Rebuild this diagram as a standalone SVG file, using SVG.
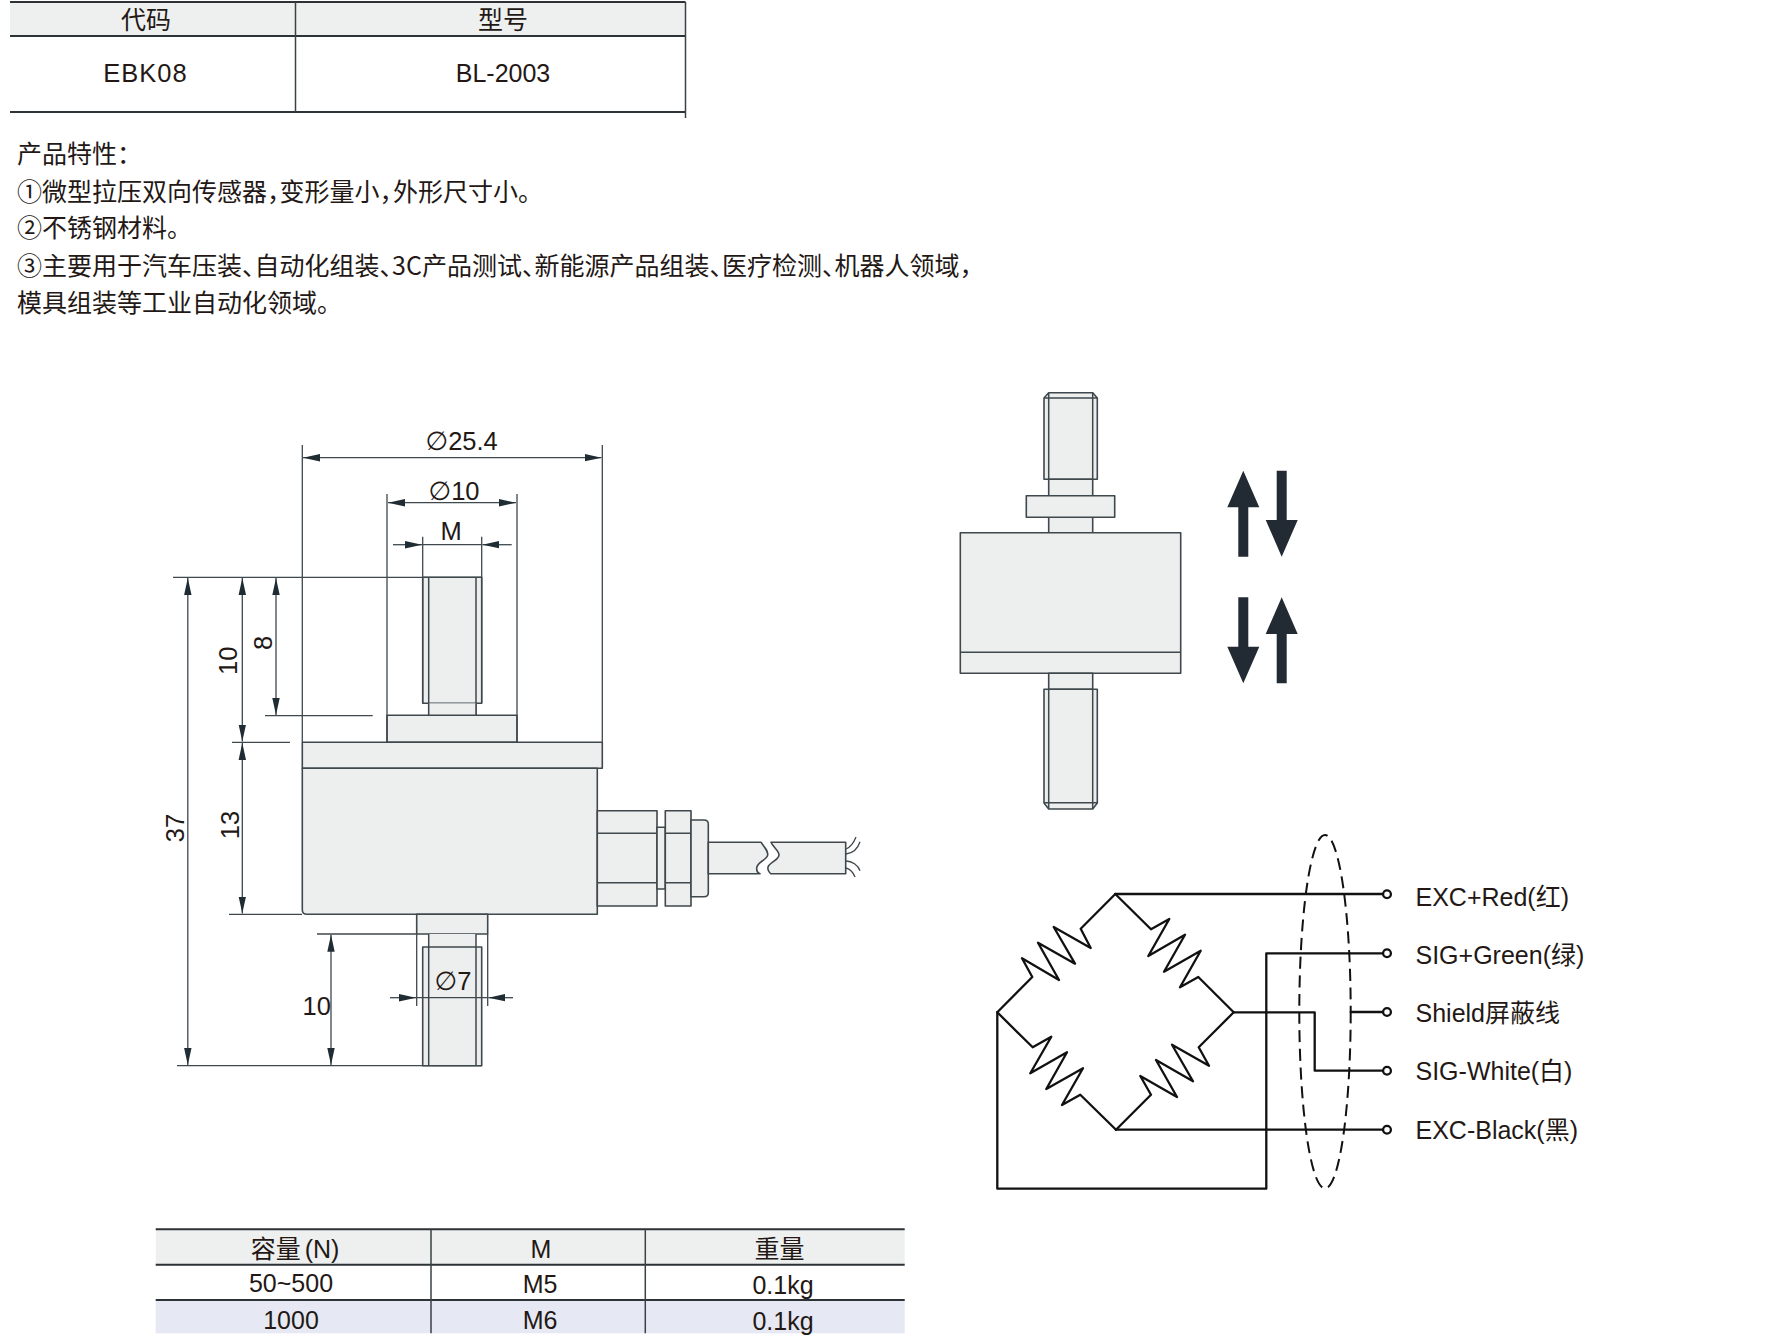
<svg xmlns="http://www.w3.org/2000/svg" width="1782" height="1339" viewBox="0 0 1782 1339">
<style>
text{font-family:"Liberation Sans","Noto Sans CJK SC",sans-serif;fill:#231815;font-size:25px}
.cjk{font-family:"Noto Sans CJK SC","Liberation Sans",sans-serif;font-size:25px}
.p{font-feature-settings:"halt"}
.m{text-anchor:middle}
.dim{font-size:25.5px}
.tl{stroke:#3a4246;stroke-width:1.5;fill:none}
.tb{stroke:#2c3236;stroke-width:2;fill:none}
.o{stroke:#3f484d;stroke-width:1.6;fill:#edefee;stroke-linejoin:round}
.l{stroke:#3f484d;stroke-width:1.5;fill:none}
.d{stroke:#3f484d;stroke-width:1.3;fill:none}
.da{marker-end:url(#ah);marker-start:url(#ah)}
.de{marker-end:url(#ah)}
.w{stroke:#111;stroke-width:2.3;fill:none;stroke-linejoin:round;stroke-linecap:round}
.t{stroke:#111;stroke-width:2.3;fill:#fff}
.sh{stroke:#111;stroke-width:2;fill:none;stroke-dasharray:12 6.5}
.ar{fill:#222b33}
.dia{font-family:"DejaVu Sans",sans-serif;font-size:26px}
</style>
<defs>
<marker id="ah" markerUnits="userSpaceOnUse" markerWidth="18" markerHeight="9" refX="17" refY="4.5" orient="auto-start-reverse"><path d="M0 0.8L17 4.5L0 8.2Z" fill="#1f2c33"/></marker>
</defs>

<g id="table-top">
<rect x="10" y="2" width="675.5" height="34" fill="#eef0ef"/>
<path class="tb" d="M10 2H685.5M10 36H685.5M10 112H685.5"/>
<path class="tl" d="M295.5 2V112M685.5 2V118"/>
<text class="cjk m" x="146" y="29">代码</text>
<text class="cjk m" x="503" y="29">型号</text>
<text class="m" x="145.5" y="82" style="letter-spacing:1px;font-size:25.5px">EBK08</text>
<text class="m" x="503" y="82">BL-2003</text>
</g>

<g id="features">
<text class="cjk" x="17" y="163">产品特性：</text>
<text class="cjk" x="17" y="200.5">①微型拉压双向传感器<tspan class="p">，</tspan>变形量小<tspan class="p">，</tspan><tspan dx="1">外形尺寸小。</tspan></text>
<text class="cjk" x="17" y="237">②不锈钢材料。</text>
<text class="cjk" x="17" y="275">③主要用于汽车压装<tspan class="p">、</tspan>自动化组装<tspan class="p">、</tspan>3C产品测试<tspan class="p">、</tspan>新能源产品组装<tspan class="p">、</tspan>医疗检测<tspan class="p">、</tspan>机器人领域<tspan class="p">，</tspan></text>
<text class="cjk" x="17" y="312">模具组装等工业自动化领域。</text>
</g>

<g id="side-view">
<rect class="o" x="422.7" y="577.3" width="59" height="126"/>
<path class="l" d="M428.7 577.3V715.3M476 577.3V715.3"/>
<rect x="428.7" y="703.3" width="47.3" height="12" fill="#edefee"/>
<path class="l" d="M428.7 703.3V715.3M476 703.3V715.3"/>
<rect class="o" x="387" y="715.3" width="130" height="27"/>
<rect class="o" x="302.3" y="742.3" width="300" height="26"/>
<path class="o" d="M302.3 768.3V910Q302.3 914.3 307 914.3H597.3V768.3Z"/>
<rect class="o" x="416.7" y="914.3" width="71" height="19.7"/>
<rect x="428.7" y="934" width="47.3" height="131.7" fill="#edefee"/>
<rect class="o" x="422.7" y="947" width="59" height="118.7"/>
<path class="l" d="M428.7 934V1065.7M476 934V1065.7"/>
</g>

<g id="cable">
<rect class="o" x="597.3" y="810.7" width="59.7" height="95.3"/>
<rect class="o" x="657" y="827.3" width="8.3" height="61.7"/>
<rect class="o" x="665.3" y="810.7" width="25.7" height="95.3"/>
<path class="l" d="M597.3 833.3H657M597.3 882.7H657M665.3 833.3H691M665.3 882.7H691"/>
<path class="o" d="M691 820H704Q708.3 820 708.3 824V892.7Q708.3 896.7 704 896.7H691Z"/>
<path class="o" d="M708.3 842.3H761C766 849 768 851 767.7 855C767 860 757 862 756.7 868C756.5 871 758 873 760 873.7H708.3Z"/>
<path class="o" d="M771 842.3H845.7V873.7H770.7C768 871 767.5 869 768 867C770 862 779 860 779 855C779 851 773 847 771 842.3Z"/>
<path class="d" d="M846 849C851 847 854 842 856 837M846 854C853 853 858 848 860 841.7M846 861C852 861 858 865 860 870.7M846 868C850 869 853 872 855 877"/>
</g>

<g id="dimensions">
<path class="d" d="M302.3 445V742M602.3 445V742M387 494V742M517 494V742M422.7 536.7V703M481.7 536.7V703"/>
<path class="d" d="M173 577.3H481.7M177 1065.7H481.7M265 715.7H372.7M232 742.3H290M229 914.3H302M317 934H416.7M416.7 934V1006M487.7 934V1006"/>
<path class="d da" d="M303 457.7H601.5"/>
<path class="d da" d="M388 502.7H516"/>
<path class="d" d="M422.7 544.7H481.7"/>
<path class="d de" d="M393 544.7H422"/>
<path class="d de" d="M511.7 544.7H482.4"/>
<path class="d" d="M416.7 997.7H487.7"/>
<path class="d de" d="M390 997.7H416"/>
<path class="d de" d="M513 997.7H488.4"/>
<path class="d da" d="M187.8 578V1065"/>
<path class="d da" d="M242.3 578V741.5"/>
<path class="d da" d="M276 578V715"/>
<path class="d da" d="M242.3 743V913.5"/>
<path class="d da" d="M331 934.7V1065"/>
<text class="dim" x="425.5" y="450"><tspan class="dia">∅</tspan>25.4</text>
<text class="dim" x="428.5" y="499.5"><tspan class="dia">∅</tspan>10</text>
<text class="dim m" x="451" y="540">M</text>
<text class="dim" x="434.5" y="989.5"><tspan class="dia">∅</tspan>7</text>
<text class="dim m" transform="translate(184 828) rotate(-90)">37</text>
<text class="dim m" transform="translate(237 660.7) rotate(-90)">10</text>
<text class="dim m" transform="translate(271.7 643) rotate(-90)">8</text>
<text class="dim m" transform="translate(239 825) rotate(-90)">13</text>
<text class="dim m" x="316.7" y="1014.5">10</text>
</g>

<g id="front-view">
<path class="o" d="M1044 398L1048.7 392.7H1092.7L1097.3 398V479.3H1044Z"/>
<path class="l" d="M1048.7 392.7V479.3M1092.7 392.7V479.3M1044 398H1097.3"/>
<rect class="o" x="1048.7" y="479.3" width="44" height="53.4"/>
<rect class="o" x="1026.3" y="495.7" width="88.4" height="21.6"/>
<rect class="o" x="960.3" y="532.7" width="220.4" height="140.6"/>
<path class="l" d="M960.3 652.3H1180.7"/>
<rect class="o" x="1048.7" y="673.3" width="44" height="16"/>
<path class="o" d="M1044 689.3H1097.3V803L1092.7 809H1048.7L1044 803Z"/>
<path class="l" d="M1048.7 689.3V809M1092.7 689.3V809M1044 802.7H1097.3"/>
</g>

<g id="force-arrows">
<path class="ar" d="M1243.3 470.7L1259.3 507.3H1248.3V556.7H1238.3V507.3H1227.3Z"/>
<path class="ar" d="M1276.7 470.7H1286.7V520H1297.7L1281.7 556.7L1265.7 520H1276.7Z"/>
<path class="ar" d="M1238.3 597.3H1248.3V646.7H1259.3L1243.3 683.3L1227.3 646.7H1238.3Z"/>
<path class="ar" d="M1281.7 597.3L1297.7 634H1286.7V683.3H1276.7V634H1265.7Z"/>
</g>

<g id="bridge">
<path class="w" d="M1115.3 894L1080.7 928.7L1090.7 948L1053.7 927L1075 963.7L1038 942.7L1059 980L1022 958.3L1032.3 977L997.3 1012.3"/>
<path class="w" d="M1115.3 894L1151 929.3L1169.3 919L1148.3 956L1185 934.7L1164 971.7L1200.7 950.7L1180 987.3L1198.3 977L1233.7 1012.3"/>
<path class="w" d="M997.3 1012.3L1032.7 1047.3L1051.3 1036.7L1030.3 1073.3L1067 1052.3L1046.3 1089L1083 1068.3L1062 1105L1080.3 1094.7L1116 1129.7"/>
<path class="w" d="M1116 1129.7L1151 1094.7L1140.3 1076L1177 1097L1156 1060L1193 1081.3L1172 1044.7L1209 1065.7L1198.7 1047.3L1233.7 1012.3"/>
</g>

<g id="connectors">
<ellipse class="sh" cx="1325" cy="1011.7" rx="25.7" ry="176.7"/>
<path class="w" d="M1115.3 894H1383"/>
<path class="w" d="M1383 953.3H1266.3V1188.7H997.3V1012.3"/>
<path class="w" d="M1233.7 1012.3H1314.7V1070.7H1383"/>
<path class="w" d="M1350.7 1012H1383"/>
<path class="w" d="M1116 1129.7H1383"/>
</g>

<g id="terminals">
<circle class="t" cx="1387" cy="894.3" r="3.9"/>
<circle class="t" cx="1387" cy="953.3" r="3.9"/>
<circle class="t" cx="1387" cy="1012" r="3.9"/>
<circle class="t" cx="1387" cy="1070.7" r="3.9"/>
<circle class="t" cx="1387" cy="1129.7" r="3.9"/>
<text x="1415.5" y="905.5">EXC+Red(红)</text>
<text x="1415.5" y="964">SIG+Green(绿)</text>
<text x="1415.5" y="1021.5">Shield屏蔽线</text>
<text x="1415.5" y="1080">SIG-White(白)</text>
<text x="1415.5" y="1138.5">EXC-Black(黑)</text>
</g>

<g id="table-bottom">
<rect x="155.7" y="1229.3" width="749" height="35.4" fill="#eef0ef"/>
<rect x="155.7" y="1300" width="749" height="33.3" fill="#e6e9f3"/>
<path class="tb" d="M155.7 1229.3H904.7M155.7 1264.7H904.7M155.7 1300H904.7"/>
<path class="tl" d="M431 1229.3V1333.3M645.3 1229.3V1333.3"/>
<text class="m" x="295" y="1258">容量<tspan dx="4">(N)</tspan></text>
<text class="m" x="541" y="1258">M</text>
<text class="m" x="779.5" y="1258">重量</text>
<text class="m" x="291" y="1291.7">50~500</text>
<text class="m" x="540" y="1293">M5</text>
<text class="m" x="783" y="1293.5">0.1kg</text>
<text class="m" x="291" y="1329">1000</text>
<text class="m" x="540" y="1329">M6</text>
<text class="m" x="783" y="1329.5">0.1kg</text>
</g>
</svg>
